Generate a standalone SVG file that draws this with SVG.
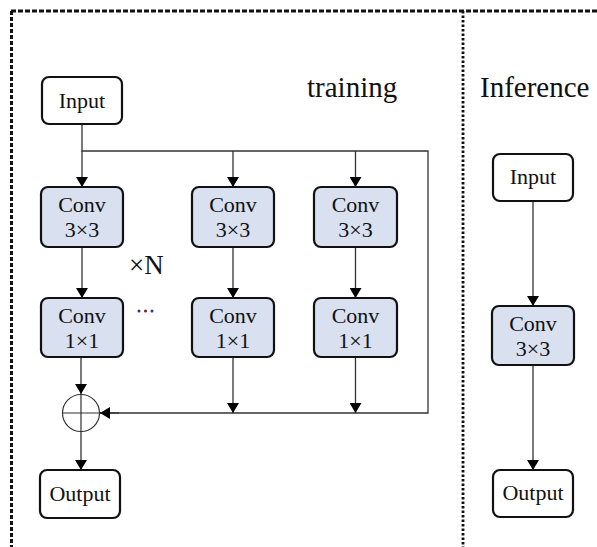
<svg xmlns="http://www.w3.org/2000/svg" width="597" height="547" viewBox="0 0 597 547">
<style>
.box{fill:#fff;stroke:#111;stroke-width:2.2}
.conv{fill:#d9e0f0;stroke:#111;stroke-width:2.2}
.t{font-family:"Liberation Serif","Times New Roman",serif;font-size:22px;fill:#111;text-anchor:middle}
.big{font-family:"Liberation Serif","Times New Roman",serif;font-size:29px;fill:#111}
.ln{fill:none;stroke:#333;stroke-width:1.3}
.arr{fill:none;stroke:#333;stroke-width:1.3;marker-end:url(#ah)}
</style>
<defs>
<marker id="ah" viewBox="0 0 10 12" refX="10" refY="6" markerWidth="10" markerHeight="12" markerUnits="userSpaceOnUse" orient="auto">
<path d="M0,0 L10,6 L0,12 Z" fill="#000"/>
</marker>
</defs>
<rect width="597" height="547" fill="#fff"/>
<g id="frame">
<path d="M11,11 H597" fill="none" stroke="#111" stroke-width="3" stroke-dasharray="5,2"/>
<path d="M11.5,11 V547" fill="none" stroke="#111" stroke-width="3" stroke-dasharray="4,2"/>
<path d="M463,11 V547" fill="none" stroke="#111" stroke-width="2.8" stroke-dasharray="2.5,2"/>
</g>
<g id="labels">
<text class="big" x="307" y="97">training</text>
<text class="big" x="480" y="97">Inference</text>
<text class="big" x="129" y="274" style="font-size:27px">×N</text>
<g><circle cx="139" cy="311" r="1.5" fill="#223a8a"/><circle cx="145.5" cy="311" r="1.5" fill="#7a1a1a"/><circle cx="152" cy="311" r="1.5" fill="#223a8a"/></g>
</g>
<g id="connectors">
<path class="ln" d="M82,124 V151 H428 V413 H99"/>
<path class="arr" d="M82,151 V187"/>
<path class="arr" d="M233,151 V187"/>
<path class="arr" d="M355.5,151 V187"/>
<path class="arr" d="M82,247 V298"/>
<path class="arr" d="M233,247 V298"/>
<path class="arr" d="M355.5,247 V298"/>
<path class="arr" d="M233,357 V413"/>
<path class="arr" d="M355.5,357 V413"/>
<path class="arr" d="M81,357 V394"/>
<path class="arr" d="M119,413 H100"/>
<path class="arr" d="M81,432 V470"/>
<path class="arr" d="M533,201 V306"/>
<path class="arr" d="M533,365 V470"/>
</g>
<g id="sum">
<circle cx="81" cy="413" r="18.5" fill="none" stroke="#333" stroke-width="1.2"/>
<path d="M62.5,413 H99.5 M81,394.5 V431.5" stroke="#333" stroke-width="1.2"/>
</g>
<g id="input-train"><rect class="box" x="42" y="77" width="80" height="47" rx="7"/><text class="t" x="82" y="108">Input</text></g>
<g id="conv3-a"><rect class="conv" x="41" y="187" width="82" height="60" rx="7"/><text class="t" x="82" y="212">Conv</text><text class="t" x="82" y="237">3×3</text></g>
<g id="conv1-a"><rect class="conv" x="41" y="298" width="82" height="59" rx="7"/><text class="t" x="82" y="323">Conv</text><text class="t" x="82" y="348">1×1</text></g>
<g id="conv3-b"><rect class="conv" x="192" y="187" width="82" height="60" rx="7"/><text class="t" x="233" y="212">Conv</text><text class="t" x="233" y="237">3×3</text></g>
<g id="conv1-b"><rect class="conv" x="192" y="298" width="82" height="59" rx="7"/><text class="t" x="233" y="323">Conv</text><text class="t" x="233" y="348">1×1</text></g>
<g id="conv3-c"><rect class="conv" x="314" y="187" width="83" height="60" rx="7"/><text class="t" x="355.5" y="212">Conv</text><text class="t" x="355.5" y="237">3×3</text></g>
<g id="conv1-c"><rect class="conv" x="314" y="298" width="83" height="59" rx="7"/><text class="t" x="355.5" y="323">Conv</text><text class="t" x="355.5" y="348">1×1</text></g>
<g id="output-train"><rect class="box" x="40" y="470" width="80" height="48" rx="7"/><text class="t" x="80" y="501">Output</text></g>
<g id="input-inf"><rect class="box" x="493" y="154" width="80" height="47" rx="7"/><text class="t" x="533" y="184">Input</text></g>
<g id="conv-inf"><rect class="conv" x="492" y="306" width="82" height="59" rx="7"/><text class="t" x="533" y="331">Conv</text><text class="t" x="533" y="356">3×3</text></g>
<g id="output-inf"><rect class="box" x="493" y="470" width="80" height="47" rx="7"/><text class="t" x="533" y="500">Output</text></g>
</svg>
